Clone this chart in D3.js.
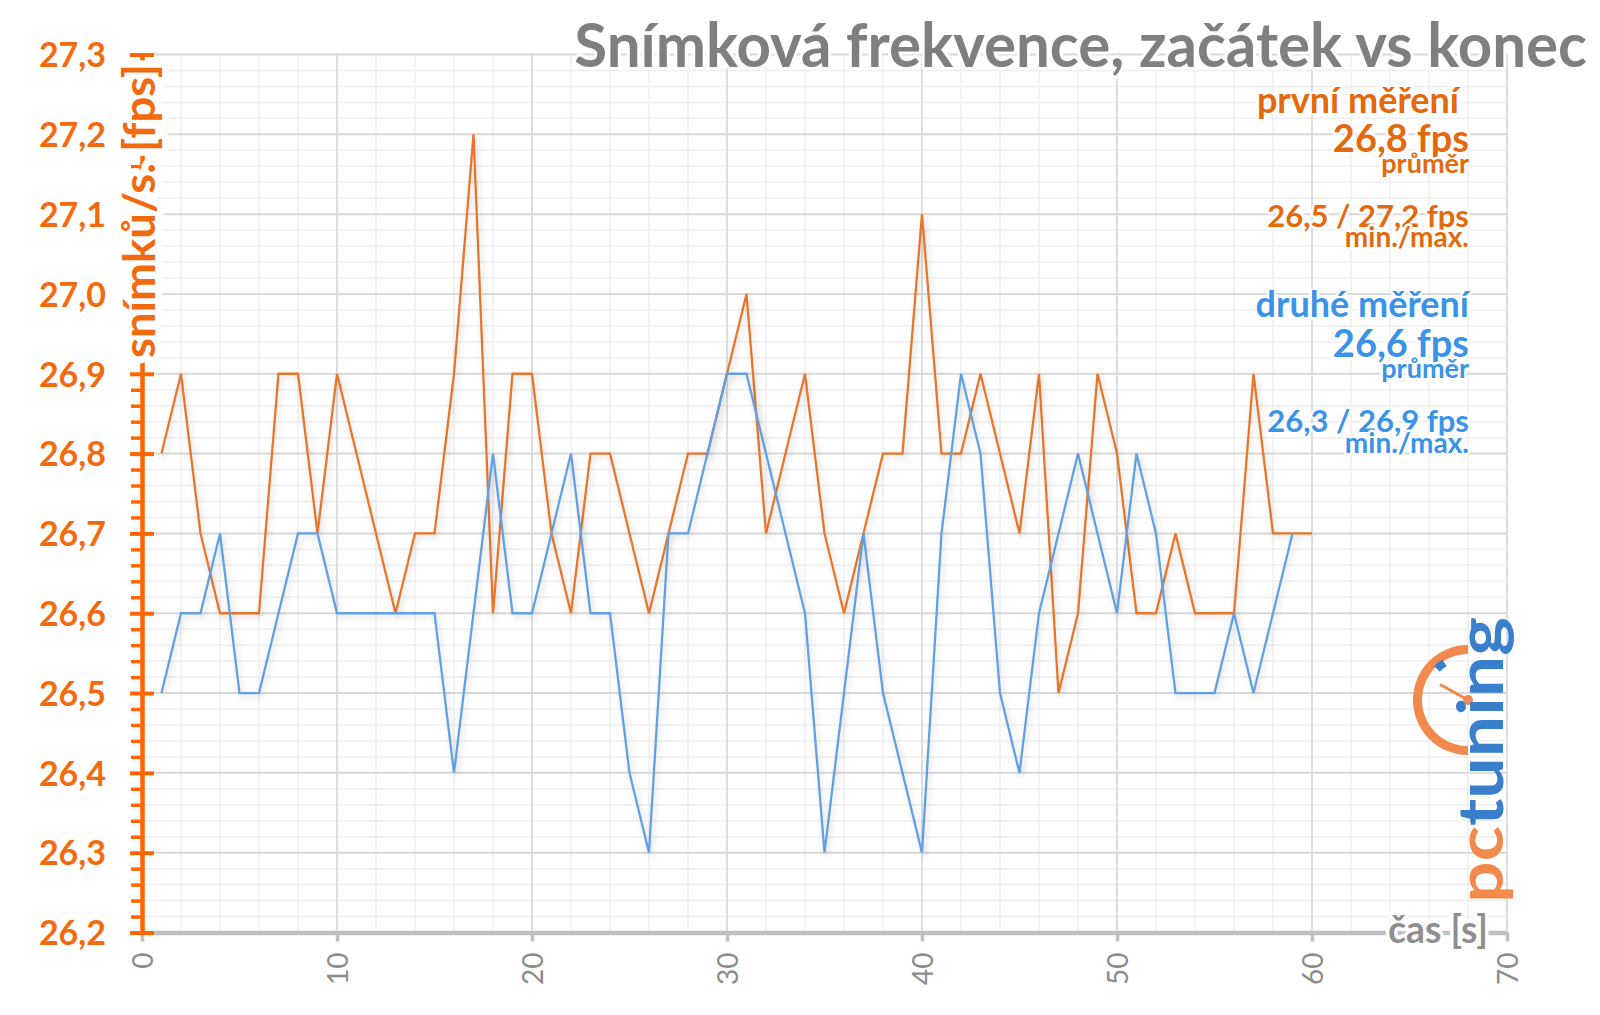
<!DOCTYPE html>
<html><head><meta charset="utf-8">
<script src="https://cdn.jsdelivr.net/npm/d3@7"></script>
<style>
html,body{margin:0;padding:0;background:#fff;}
svg{display:block;font-family:Lato,"Open Sans",sans-serif;}
.halo{paint-order:stroke;stroke:#fff;stroke-linejoin:round;}
</style></head>
<body>
<svg id="chart" width="1600" height="1015"></svg>
<script>
// ---- data ----
const firstRun = [26.8,26.9,26.7,26.6,26.6,26.6,26.9,26.9,26.7,26.9,
                  26.8,26.7,26.6,26.7,26.7,26.9,27.2,26.6,26.9,26.9,
                  26.7,26.6,26.8,26.8,26.7,26.6,26.7,26.8,26.8,26.9,
                  27.0,26.7,26.8,26.9,26.7,26.6,26.7,26.8,26.8,27.1,
                  26.8,26.8,26.9,26.8,26.7,26.9,26.5,26.6,26.9,26.8,
                  26.6,26.6,26.7,26.6,26.6,26.6,26.9,26.7,26.7,26.7];
const secondRun = [26.5,26.6,26.6,26.7,26.5,26.5,26.6,26.7,26.7,26.6,
                   26.6,26.6,26.6,26.6,26.6,26.4,26.6,26.8,26.6,26.6,
                   26.7,26.8,26.6,26.6,26.4,26.3,26.7,26.7,26.8,26.9,
                   26.9,26.8,26.7,26.6,26.3,26.5,26.7,26.5,26.4,26.3,
                   26.7,26.9,26.8,26.5,26.4,26.6,26.7,26.8,26.7,26.6,
                   26.8,26.7,26.5,26.5,26.5,26.6,26.5,26.6,26.7];
const xTicks = [0,10,20,30,40,50,60,70];
const yTicks = [26.2,26.3,26.4,26.5,26.6,26.7,26.8,26.9,27.0,27.1,27.2,27.3];
const titleText = "Snímková frekvence, začátek vs konec";
const yTitle = "snímků/s. [fps]";
const xTitle = "čas [s]";
const notes = [
  {text:"první měření", size:36, y:113, color:"#E4690C", dx:-10},
  {text:"26,8 fps", size:38, y:152, color:"#E4690C", dx:0},
  {text:"průměr", size:27, y:173, color:"#E4690C", dx:0},
  {text:"26,5 / 27,2 fps", size:31, y:227, color:"#E4690C", dx:0},
  {text:"min./max.", size:28, y:247, color:"#E4690C", dx:0},
  {text:"druhé měření", size:36, y:317, color:"#3B93E5", dx:0},
  {text:"26,6 fps", size:38, y:357, color:"#3B93E5", dx:0},
  {text:"průměr", size:27, y:378, color:"#3B93E5", dx:0},
  {text:"26,3 / 26,9 fps", size:31, y:432, color:"#3B93E5", dx:0},
  {text:"min./max.", size:28, y:453, color:"#3B93E5", dx:0}
];

// ---- layout ----
const svg = d3.select("#chart");
const x = d3.scaleLinear().domain([0,70]).range([142,1507]);
const y = d3.scaleLinear().domain([26.2,27.3]).range([932.5,54.5]);
const fmt = d => d.toFixed(1).replace(".", ",");

const defs = svg.append("defs");
const f = defs.append("filter").attr("id","shadow").attr("x","-5%").attr("y","-5%").attr("width","110%").attr("height","115%");
f.append("feDropShadow").attr("dx",2).attr("dy",3).attr("stdDeviation",3)
  .attr("flood-color","#000").attr("flood-opacity",0.16);

// grid
const grid = svg.append("g");
const minorY = d3.range(0,56).map(i => +(26.2 + i*0.02).toFixed(2));
const minorX = d3.range(0,36).map(i => i*2);
grid.selectAll(".mx").data(minorX).join("line")
  .attr("x1",d=>x(d)).attr("x2",d=>x(d)).attr("y1",y(27.3)).attr("y2",y(26.2))
  .attr("stroke","#efeff2").attr("stroke-width",1.5);
grid.selectAll(".my").data(minorY).join("line")
  .attr("x1",x(0)).attr("x2",x(70)).attr("y1",d=>y(d)).attr("y2",d=>y(d))
  .attr("stroke","#efefef").attr("stroke-width",1.5);
grid.selectAll(".Mx").data(xTicks).join("line")
  .attr("x1",d=>x(d)).attr("x2",d=>x(d)).attr("y1",y(27.3)).attr("y2",y(26.2))
  .attr("stroke","#dcdde3").attr("stroke-width",2);
grid.selectAll(".My").data(yTicks).join("line")
  .attr("x1",x(0)).attr("x2",x(70)).attr("y1",d=>y(d)).attr("y2",d=>y(d))
  .attr("stroke","#d9d9d9").attr("stroke-width",2);

// series
const line = d3.line().x((d,i)=>x(i+1)).y(d=>y(d));
svg.append("path").datum(firstRun).attr("d",line).attr("fill","none")
  .attr("stroke","#E8762C").attr("stroke-width",2.3).attr("stroke-linejoin","miter").attr("filter","url(#shadow)");
svg.append("path").datum(secondRun).attr("d",line).attr("fill","none")
  .attr("stroke","#62A0E3").attr("stroke-width",2.3).attr("stroke-linejoin","miter").attr("filter","url(#shadow)");

// x axis
const xAxis = svg.append("g").attr("transform",`translate(0,${y(26.2)})`)
  .call(d3.axisBottom(x).tickValues(xTicks).tickSize(9).tickSizeOuter(0).tickPadding(14));
xAxis.select(".domain").attr("stroke","#bfbfbf").attr("stroke-width",4.5);
xAxis.selectAll(".tick line").attr("stroke","#bfbfbf").attr("stroke-width",3.5);
xAxis.selectAll(".tick text")
  .attr("transform","rotate(-90)").attr("text-anchor","end")
  .attr("x",-20).attr("y",0).attr("dy","0.36em")
  .attr("fill","#8c8c8c").attr("font-size",28).attr("font-family","Lato");

// y axis (minor ticks)
const minorTicks = minorY.filter(v => Math.abs(v*10 - Math.round(v*10)) > 1e-6);
const yMinor = svg.append("g").attr("transform",`translate(${x(0)},0)`)
  .call(d3.axisLeft(y).tickValues(minorTicks).tickSize(11).tickSizeOuter(0).tickFormat(""));
yMinor.select(".domain").remove();
yMinor.selectAll(".tick line").attr("stroke","#FF6600").attr("stroke-width",3.5);

// y axis (major)
const yAxis = svg.append("g").attr("transform",`translate(${x(0)},0)`)
  .call(d3.axisLeft(y).tickValues(yTicks).tickFormat(fmt).tickSize(12).tickSizeOuter(0).tickPadding(24));
yAxis.select(".domain").attr("stroke","#FF6600").attr("stroke-width",4.5);
yAxis.selectAll(".tick line").attr("x1",12).attr("stroke","#FF6600").attr("stroke-width",4);
yAxis.selectAll(".tick text").attr("fill","#F26A0E").attr("font-size",34)
  .attr("font-weight","bold").attr("font-family","Lato").attr("dy","0.36em");

// axis titles
svg.append("text").attr("class","halo")
  .attr("transform",`translate(155,358) rotate(-90)`)
  .attr("text-anchor","start").attr("font-size",43).attr("font-weight","bold")
  .attr("fill","#F26A0E").attr("stroke-width",14)
  .attr("textLength",294).attr("lengthAdjust","spacingAndGlyphs").text(yTitle);
svg.append("text").attr("class","halo")
  .attr("x",1388).attr("y",943).attr("font-size",38).attr("font-weight","bold")
  .attr("fill","#8f8f8f").attr("stroke-width",7)
  .attr("textLength",100).attr("lengthAdjust","spacingAndGlyphs").text(xTitle);

// title (horizontally condensed to the reference width)
const tg = svg.append("g");
const tt = tg.append("text").attr("class","halo")
  .attr("x",0).attr("y",0).attr("text-anchor","end")
  .attr("font-size",61).attr("font-weight","bold").attr("fill","#7f7f7f").attr("stroke-width",6)
  .text(titleText);
const natW = tt.node().getComputedTextLength() || 1013;
tg.attr("transform",`translate(1587,67) scale(${Math.min(1, 1013/natW)},1)`);

// annotations
svg.append("g").selectAll("text").data(notes).join("text").attr("class","halo")
  .attr("x",d=>1469 + d.dx).attr("y",d=>d.y).attr("text-anchor","end")
  .attr("font-size",d=>d.size).attr("font-weight","bold")
  .attr("fill",d=>d.color).attr("stroke-width",5).text(d=>d.text);

// logo
const logo = svg.append("g");
const arc = d3.arc().innerRadius(46).outerRadius(55);
logo.append("path").attr("transform","translate(1468,700)")
  .attr("d",arc({startAngle:Math.PI,endAngle:2*Math.PI})).attr("fill","#F28A4E");
logo.append("path").attr("transform","translate(1468,700)")
  .attr("d",d3.arc().innerRadius(40).outerRadius(48)({startAngle:5.5,endAngle:5.72})).attr("fill","#3A7FCB");
logo.append("line").attr("x1",1468).attr("y1",700).attr("x2",1441).attr("y2",685)
  .attr("stroke","#F28A4E").attr("stroke-width",3).attr("stroke-linecap","round");
logo.append("circle").attr("cx",1468).attr("cy",700).attr("r",5).attr("fill","#F28A4E");
const lt = logo.append("text").attr("transform","translate(1503,903) rotate(-90)")
  .attr("font-size",64).attr("font-weight","bold").attr("font-family","Lato")
  .attr("textLength",286).attr("lengthAdjust","spacingAndGlyphs");
lt.append("tspan").attr("fill","#F28A4E").text("pc");
lt.append("tspan").attr("fill","#3A7FCB").text("tuning");
</script>
</body></html>
